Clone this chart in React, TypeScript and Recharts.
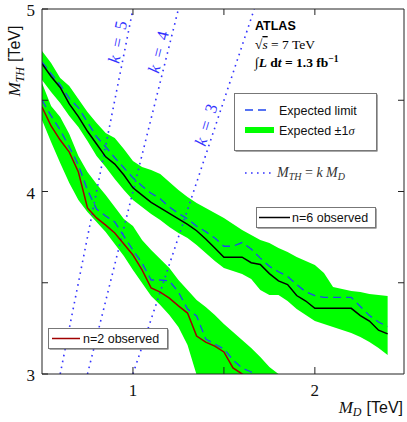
import React from 'react'
import { ComposedChart, Area, Line, XAxis, YAxis, ReferenceDot } from 'recharts'

// M_D grid (TeV)
const md = [
  0.5, 0.55, 0.6, 0.65, 0.7, 0.75, 0.8, 0.85, 0.9, 0.95, 1.0, 1.05, 1.1, 1.15, 1.2, 1.25, 1.3,
  1.35, 1.4, 1.45, 1.5, 1.55, 1.6, 1.65, 1.7, 1.75, 1.8, 1.85, 1.9, 1.95, 2.0, 2.05, 2.1, 2.15,
  2.2, 2.25, 2.3, 2.35, 2.4,
]

// n=6
const n6Observed = [
  4.7, 4.63, 4.57, 4.48, 4.41, 4.33, 4.26, 4.19, 4.15, 4.09, 4.02, 3.98, 3.94, 3.91, 3.88, 3.85,
  3.82, 3.785, 3.74, 3.69, 3.64, 3.64, 3.64, 3.61, 3.6, 3.55, 3.51, 3.49, 3.43, 3.4, 3.36, 3.36,
  3.36, 3.36, 3.36, 3.32, 3.29, 3.24, 3.22,
]
const n6Expected = [
  4.71, 4.645, 4.585, 4.51, 4.46, 4.38, 4.3, 4.245, 4.185, 4.13, 4.075, 4.03, 3.99, 3.96, 3.915,
  3.88, 3.85, 3.81, 3.78, 3.745, 3.7, 3.7, 3.72, 3.685, 3.635, 3.59, 3.56, 3.535, 3.49, 3.45, 3.43,
  3.42, 3.42, 3.42, 3.42, 3.37, 3.32, 3.285, 3.26,
]
const n6High = [
  4.77, 4.704, 4.622, 4.578, 4.507, 4.436, 4.375, 4.321, 4.293, 4.233, 4.167, 4.134, 4.118, 4.096,
  4.052, 4.008, 3.97, 3.937, 3.91, 3.882, 3.855, 3.822, 3.789, 3.762, 3.734, 3.718, 3.69, 3.668,
  3.641, 3.619, 3.597, 3.553, 3.477, 3.466, 3.455, 3.449, 3.438, 3.433, 3.427,
]
const n6Low = [
  4.611, 4.545, 4.485, 4.414, 4.353, 4.277, 4.195, 4.134, 4.068, 4.008, 3.953, 3.915, 3.877, 3.844,
  3.805, 3.773, 3.745, 3.707, 3.663, 3.619, 3.581, 3.564, 3.548, 3.521, 3.46, 3.433, 3.433, 3.4,
  3.356, 3.323, 3.29, 3.274, 3.258, 3.241, 3.225, 3.203, 3.175, 3.142, 3.104,
]

// n=2 (runs off the bottom of the frame)
const n2Observed = [
  4.463, 4.359, 4.282, 4.216, 4.107, 3.91, 3.855, 3.816, 3.773, 3.712, 3.652, 3.57, 3.471, 3.449,
  3.416, 3.373, 3.334, 3.208, 3.175, 3.153, 3.121, 3.033, 3.0, 2.973, 2.94,
]
const n2Expected = [
  4.501, 4.414, 4.337, 4.244, 4.145, 4.008, 3.904, 3.866, 3.833, 3.756, 3.679, 3.608, 3.515, 3.515,
  3.51, 3.449, 3.356, 3.318, 3.192, 3.164, 3.137, 3.077, 3.033, 3.011, 2.973,
]
const n2High = [
  4.595, 4.468, 4.408, 4.315, 4.195, 4.107, 4.041, 3.981, 3.915, 3.849, 3.811, 3.734, 3.679, 3.63,
  3.581, 3.515, 3.46, 3.405, 3.367, 3.323, 3.274, 3.23, 3.186, 3.142, 3.093, 3.038, 3.0, 2.956,
]
const n2Low = [
  4.392, 4.271, 4.156, 4.047, 3.953, 3.888, 3.833, 3.778, 3.712, 3.647, 3.57, 3.499, 3.427, 3.378,
  3.323, 3.258, 3.159, 2.995, 2.858, 2.8, 2.8, 2.8, 2.8, 2.8, 2.8, 2.8, 2.8, 2.8,
]

// M_TH = k M_D lines, end points on the frame
const kLine3 = [{ md: 1.0, mth: 3 }, { md: 1.667, mth: 5 }]
const kLine4 = [{ md: 0.75, mth: 3 }, { md: 1.25, mth: 5 }]
const kLine5 = [{ md: 0.6, mth: 3 }, { md: 1.0, mth: 5 }]
const kLabels = [
  { k: 5, md: 0.913, mth: 4.82, angle: -79 },
  { k: 4, md: 1.138, mth: 4.765, angle: -76 },
  { k: 3, md: 1.4, mth: 4.365, angle: -73 },
]

const xTicks = [1, 1.5, 2]
const yTicks = [3, 3.5, 4, 4.5, 5]
const yTicksRight = [3.5, 4, 4.5]

const rows = md.map((x, i) => ({
  md: x,
  n6Obs: n6Observed[i],
  n6Exp: n6Expected[i],
  n6Band: [n6Low[i], n6High[i]],
  n2Obs: n2Observed[i] ?? null,
  n2Exp: n2Expected[i] ?? null,
  n2Band: n2High[i] != null ? [n2Low[i], n2High[i]] : null,
}))

const SERIF = '"Liberation Serif", "DejaVu Serif", serif'
const SANS = '"Liberation Sans", Arial, sans-serif'
const AXIS = '#222'
const GREEN = '#00ff00'
const DASH_BLUE = '#1f45f0'
const DOT_BLUE = '#3333ff'

const BottomTick = (p: any) => {
  const v = p.payload.value
  return (
    <g>
      <line x1={p.x} y1={p.y} x2={p.x} y2={p.y - 7} stroke={AXIS} />
      {Number.isInteger(v) && (
        <text x={p.x} y={p.y + 22} textAnchor="middle" fontFamily={SERIF} fontSize={17} fill="#111">
          {v}
        </text>
      )}
    </g>
  )
}
const TopTick = (p: any) => <line x1={p.x} y1={p.y} x2={p.x} y2={p.y + 6} stroke={AXIS} />
const LeftTick = (p: any) => {
  const v = p.payload.value
  return (
    <g>
      <line x1={p.x} y1={p.y} x2={p.x + 6} y2={p.y} stroke={AXIS} />
      {Number.isInteger(v) && (
        <text x={p.x - 7} y={p.y + 7} textAnchor="end" fontFamily={SERIF} fontSize={17} fill="#111">
          {v}
        </text>
      )}
    </g>
  )
}
const RightTick = (p: any) => <line x1={p.x - 6} y1={p.y} x2={p.x} y2={p.y} stroke={AXIS} />

export default function App() {
  return (
    <div style={{ position: 'absolute', left: 0, top: 0, width: 407, height: 422, background: '#fff' }}>
      <ComposedChart
        width={407}
        height={422}
        data={rows}
        margin={{ top: 8, right: 2, bottom: 0, left: 0 }}
      >
        <XAxis
          dataKey="md"
          type="number"
          domain={[0.5, 2.49]}
          allowDataOverflow
          ticks={xTicks}
          interval={0}
          height={48}
          tickSize={0}
          tickMargin={0}
          tickLine={false}
          axisLine={{ stroke: AXIS }}
          tick={BottomTick}
        />
        <XAxis
          xAxisId="top"
          orientation="top"
          dataKey="md"
          type="number"
          domain={[0.5, 2.49]}
          allowDataOverflow
          ticks={xTicks}
          interval={0}
          height={1}
          tickSize={0}
          tickMargin={0}
          tickLine={false}
          axisLine={{ stroke: AXIS }}
          tick={TopTick}
        />
        <YAxis
          type="number"
          domain={[3, 5]}
          allowDataOverflow
          ticks={yTicks}
          interval={0}
          width={42}
          tickSize={0}
          tickMargin={0}
          tickLine={false}
          axisLine={{ stroke: AXIS }}
          tick={LeftTick}
        />
        <YAxis
          yAxisId="right"
          orientation="right"
          type="number"
          domain={[3, 5]}
          allowDataOverflow
          ticks={yTicksRight}
          interval={0}
          width={1}
          tickSize={0}
          tickMargin={0}
          tickLine={false}
          axisLine={{ stroke: AXIS }}
          tick={RightTick}
        />

        <Area dataKey="n6Band" stroke="none" fill={GREEN} fillOpacity={1} isAnimationActive={false} activeDot={false} />
        <Area dataKey="n2Band" stroke="none" fill={GREEN} fillOpacity={1} isAnimationActive={false} activeDot={false} />

        {[kLine3, kLine4, kLine5].map((d, i) => (
          <Line
            key={i}
            data={d}
            dataKey="mth"
            stroke={DOT_BLUE}
            strokeWidth={1.6}
            strokeDasharray="1.6 4.4"
            dot={false}
            activeDot={false}
            isAnimationActive={false}
          />
        ))}

        <Line dataKey="n6Exp" stroke={DASH_BLUE} strokeWidth={1.3} strokeDasharray="8 5" dot={false} activeDot={false} isAnimationActive={false} />
        <Line dataKey="n2Exp" stroke={DASH_BLUE} strokeWidth={1.3} strokeDasharray="8 5" dot={false} activeDot={false} isAnimationActive={false} />
        <Line dataKey="n6Obs" stroke="#000" strokeWidth={1.5} dot={false} activeDot={false} isAnimationActive={false} />
        <Line dataKey="n2Obs" stroke="#a00000" strokeWidth={1.5} dot={false} activeDot={false} isAnimationActive={false} />

        {kLabels.map((l) => (
          <ReferenceDot
            key={l.k}
            x={l.md}
            y={l.mth}
            r={0}
            ifOverflow="visible"
            shape={(p: any) => (
              <text
                transform={`translate(${p.cx},${p.cy}) rotate(${l.angle})`}
                textAnchor="middle"
                dy="0.35em"
                fill={DOT_BLUE}
                fontFamily={SERIF}
                fontSize={17}
              >
                <tspan fontStyle="italic">k</tspan>
                {'\u2002=\u2002' + l.k}
              </text>
            )}
          />
        ))}
      </ComposedChart>

      {/* annotations and legends */}
      <svg
        width={407}
        height={422}
        style={{ position: 'absolute', left: 0, top: 0, pointerEvents: 'none' }}
      >
        <text x={255} y={30} fontFamily={SANS} fontWeight="bold" fontSize={12.5} fill="#000">
          ATLAS
        </text>
        <text x={255} y={49} fontFamily={SERIF} fontSize={13.5} fill="#000">
          √<tspan fontStyle="italic" textDecoration="overline">s</tspan> = 7 TeV
        </text>
        <text x={255} y={67} fontFamily={SERIF} fontSize={13.5} fontWeight="bold" fill="#000">
          ∫<tspan fontStyle="italic">L</tspan> d<tspan fontStyle="italic">t</tspan> = 1.3 fb
          <tspan dy={-5} fontSize={9.5}>−1</tspan>
        </text>

        <rect x={235.5} y={94.5} width={142} height={57} fill="#555" />
        <rect x={234.5} y={93.5} width={142} height={57} fill="#fff" stroke="#777" />
        <line x1={245} y1={110} x2={270} y2={110} stroke={DASH_BLUE} strokeWidth={1.3} strokeDasharray="8 5" />
        <text x={279} y={114.5} fontFamily={SANS} fontSize={12.5} fill="#111">
          Expected limit
        </text>
        <rect x={245} y={127} width={29} height={6} fill={GREEN} />
        <text x={279} y={134.5} fontFamily={SANS} fontSize={12.5} fill="#111">
          Expected ±1<tspan fontFamily={SERIF} fontStyle="italic">σ</tspan>
        </text>

        <line x1={245} y1={173} x2={274} y2={173} stroke={DOT_BLUE} strokeWidth={1.6} strokeDasharray="1.6 4.4" />
        <text x={277} y={177} fontFamily={SERIF} fontSize={14} fill="#333">
          <tspan fontStyle="italic">M</tspan>
          <tspan fontStyle="italic" fontSize={10} dy={3}>TH</tspan>
          <tspan dy={-3}> = </tspan>
          <tspan fontStyle="italic">k M</tspan>
          <tspan fontStyle="italic" fontSize={10} dy={3}>D</tspan>
        </text>

        <rect x={257.5} y={208.5} width={119} height={20} fill="#555" />
        <rect x={256.5} y={207.5} width={119} height={20} fill="#fff" stroke="#777" />
        <line x1={259} y1={217.5} x2={290} y2={217.5} stroke="#000" strokeWidth={1.5} />
        <text x={292} y={222} fontFamily={SANS} fontSize={12.5} fill="#111">
          n=6 observed
        </text>

        <rect x={49.5} y={329.5} width={119} height={20} fill="#555" />
        <rect x={48.5} y={328.5} width={119} height={20} fill="#fff" stroke="#777" />
        <line x1={52} y1={338.5} x2={80} y2={338.5} stroke="#a00000" strokeWidth={1.5} />
        <text x={83} y={343} fontFamily={SANS} fontSize={12.5} fill="#111">
          n=2 observed
        </text>

        <text transform="translate(20,61) rotate(-90)" textAnchor="middle" fontSize={17} fill="#111">
          <tspan fontFamily={SERIF} fontStyle="italic">M</tspan>
          <tspan fontFamily={SERIF} fontStyle="italic" fontSize={12} dy={4}>TH</tspan>
          <tspan fontFamily={SANS} fontSize={16} dy={-4} dx={5}>[TeV]</tspan>
        </text>
        <text x={403} y={413} textAnchor="end" fontSize={17} fill="#111">
          <tspan fontFamily={SERIF} fontStyle="italic">M</tspan>
          <tspan fontFamily={SERIF} fontStyle="italic" fontSize={12} dy={3}>D</tspan>
          <tspan fontFamily={SANS} fontSize={16} dy={-3} dx={5}>[TeV]</tspan>
        </text>
      </svg>
    </div>
  )
}
